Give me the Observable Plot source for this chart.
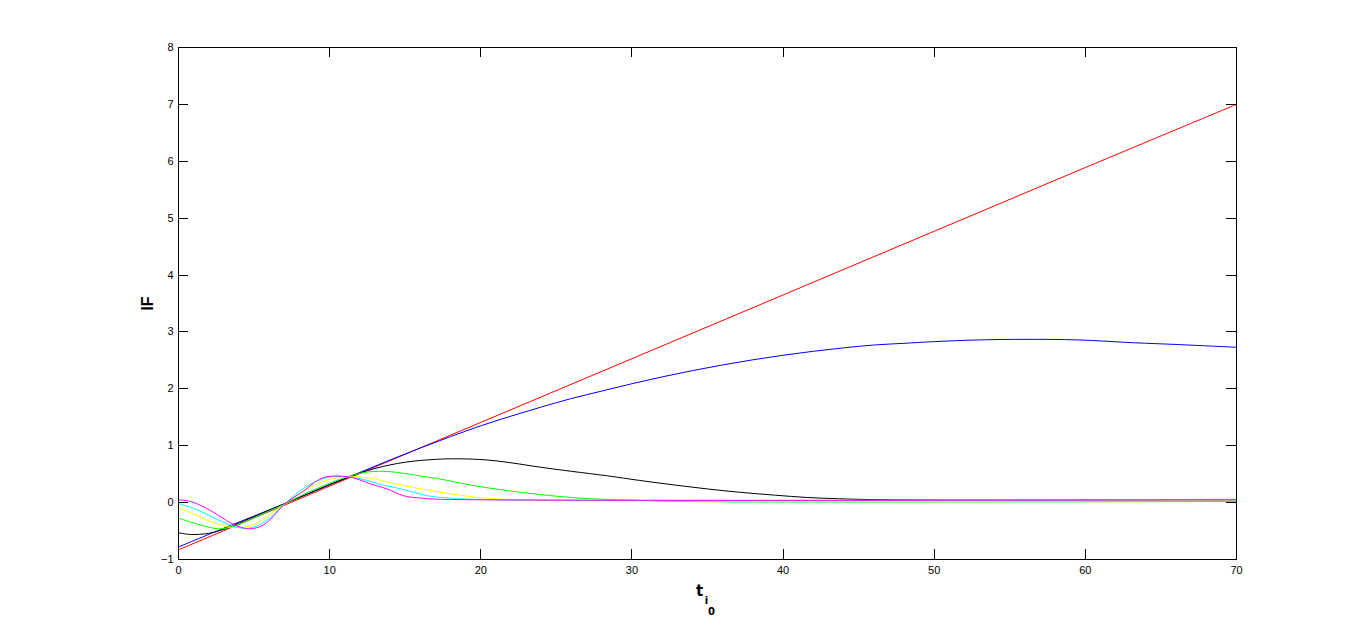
<!DOCTYPE html>
<html>
<head>
<meta charset="utf-8">
<script src="https://cdn.jsdelivr.net/npm/d3@7"></script>
<script src="https://cdn.jsdelivr.net/npm/@observablehq/plot@0.6"></script>
<style>
  html, body { margin: 0; padding: 0; background: #fff; }
</style>
</head>
<body>
<div id="chart"></div>
<script>
// ---- data ----
const xTicks = [0, 10, 20, 30, 40, 50, 60, 70];
const yTicks = [-1, 0, 1, 2, 3, 4, 5, 6, 7, 8];

const redX = [0, 10, 20, 30, 40, 50, 60, 70];
const redY = [-0.83, 0.29, 1.41, 2.53, 3.65, 4.77, 5.89, 7.0];

const blueX = [0, 3, 7, 10, 12, 14, 16, 18, 20, 22, 24, 26, 28, 30, 32, 34, 36, 38, 40, 42, 44, 46, 48, 50, 53, 56, 59.5, 63.2, 66, 70];
const blueY = [-0.78, -0.45, -0.02, 0.32, 0.53, 0.75, 0.96, 1.16, 1.35, 1.52, 1.68, 1.83, 1.96, 2.09, 2.21, 2.32, 2.42, 2.51, 2.59, 2.66, 2.72, 2.77, 2.80, 2.83, 2.86, 2.87, 2.86, 2.81, 2.78, 2.73];

const blackX = [0, 0.8, 2, 3, 4, 5.5, 7, 9, 11, 13, 15, 17, 18.5, 20.4, 22, 24, 26, 28.4, 30.5, 32.8, 35, 37.2, 39.5, 41.6, 43.5, 45.5, 50, 70];
const blackY = [-0.53, -0.56, -0.54, -0.47, -0.36, -0.19, -0.02, 0.20, 0.42, 0.60, 0.71, 0.76, 0.77, 0.75, 0.70, 0.62, 0.55, 0.47, 0.39, 0.31, 0.24, 0.18, 0.13, 0.09, 0.07, 0.055, 0.045, 0.045];

const greenX = [0, 1, 2, 2.6, 3.5, 5, 6, 7, 8, 9, 10, 11, 12.3, 13.5, 14.5, 16.2, 17.3, 19.3, 21.5, 24, 26, 27.5, 30, 33, 70];
const greenY = [-0.27, -0.36, -0.43, -0.46, -0.43, -0.27, -0.15, -0.03, 0.11, 0.23, 0.34, 0.44, 0.53, 0.55, 0.53, 0.46, 0.415, 0.31, 0.22, 0.14, 0.09, 0.065, 0.045, 0.02, 0.02];

const yellowX = [0, 1, 2, 3, 3.9, 4.6, 5.5, 6.5, 7, 8, 9, 10, 11, 12, 12.7, 14.9, 17.2, 19.3, 21.5, 25, 70];
const yellowY = [-0.10, -0.20, -0.32, -0.41, -0.44, -0.42, -0.31, -0.12, -0.03, 0.16, 0.31, 0.41, 0.455, 0.45, 0.43, 0.30, 0.19, 0.105, 0.06, 0.04, 0.035];

const cyanX = [0, 1, 2, 3, 4.2, 5, 6, 7, 8, 9, 10, 10.8, 12, 13.5, 14.9, 16.5, 18.2, 20, 70];
const cyanY = [-0.02, -0.10, -0.22, -0.35, -0.45, -0.43, -0.28, -0.03, 0.20, 0.36, 0.45, 0.46, 0.42, 0.31, 0.23, 0.12, 0.075, 0.055, 0.05];

const magentaX = [0, 0.8, 1.7, 2.5, 3.4, 4.2, 4.8, 5.5, 6.1, 7, 8.3, 9.2, 9.8, 11.2, 12, 12.7, 13.8, 14.9, 16, 17.1, 70];
const magentaY = [0.05, 0.02, -0.08, -0.2, -0.35, -0.44, -0.46, -0.41, -0.29, -0.03, 0.21, 0.39, 0.455, 0.455, 0.40, 0.33, 0.24, 0.12, 0.08, 0.06, 0.05];

const seriesColors = ["#ff0000", "#0000ff", "#000000", "#00ff00", "#ffff00", "#00ffff", "#ff00ff"];
const seriesX = [redX, blueX, blackX, greenX, yellowX, cyanX, magentaX];
const seriesY = [redY, blueY, blackY, greenY, yellowY, cyanY, magentaY];

const seriesRows = seriesX.map((xs, i) => xs.map((x, j) => ({x, y: seriesY[i][j]})));

const W = 1366, H = 628;
const mL = 178, mR = 130, mT = 47, mB = 69;
const plotH = H - mT - mB, plotW = W - mL - mR;
const tick = 10;

const chart = Plot.plot({
  width: W,
  height: H,
  marginLeft: mL,
  marginRight: mR,
  marginTop: mT,
  marginBottom: mB,
  style: {fontFamily: "'Liberation Sans', Arial, sans-serif", fontSize: "11px", background: "#fff", color: "#000"},
  x: {domain: [0, 70]},
  y: {domain: [-1, 8]},
  marks: [
    ...seriesRows.map((data, i) =>
      Plot.line(data, {
        x: "x", y: "y", stroke: seriesColors[i], strokeWidth: 1, curve: "catmull-rom", clip: true
      })
    ),
    Plot.ruleX(xTicks, {x: d => d, insetTop: plotH - tick, stroke: "#000", shapeRendering: "crispEdges"}),
    Plot.ruleX(xTicks, {x: d => d, insetBottom: plotH - tick, stroke: "#000", shapeRendering: "crispEdges"}),
    Plot.ruleY(yTicks, {y: d => d, insetRight: plotW - tick, stroke: "#000", shapeRendering: "crispEdges"}),
    Plot.ruleY(yTicks, {y: d => d, insetLeft: plotW - tick, stroke: "#000", shapeRendering: "crispEdges"}),
    Plot.frame({stroke: "#000", shapeRendering: "crispEdges"}),
    Plot.axisX({ticks: xTicks, tickSize: 0, tickPadding: 7, label: null, fontSize: 11}),
    Plot.axisY({ticks: yTicks, tickSize: 0, tickPadding: 5, label: null, fontSize: 11}),
    Plot.text(["IF"], {frameAnchor: "left", rotate: -90, dx: -31, fontSize: 16, fontWeight: "bold", textAnchor: "middle", lineAnchor: "middle"}),
    Plot.text(["t"], {frameAnchor: "bottom", dx: -8, dy: 36, fontSize: 15, fontWeight: "bold", lineAnchor: "bottom", fontFamily: "'DejaVu Sans', sans-serif"}),
    Plot.text(["i"], {frameAnchor: "bottom", dx: -1, dy: 44, fontSize: 10, fontWeight: "bold", lineAnchor: "bottom", fontFamily: "'DejaVu Sans', sans-serif"}),
    Plot.text(["0"], {frameAnchor: "bottom", dx: 4, dy: 55, fontSize: 10, fontWeight: "bold", lineAnchor: "bottom", fontFamily: "'DejaVu Sans', sans-serif"})
  ]
});
document.getElementById("chart").appendChild(chart);
</script>
</body>
</html>
